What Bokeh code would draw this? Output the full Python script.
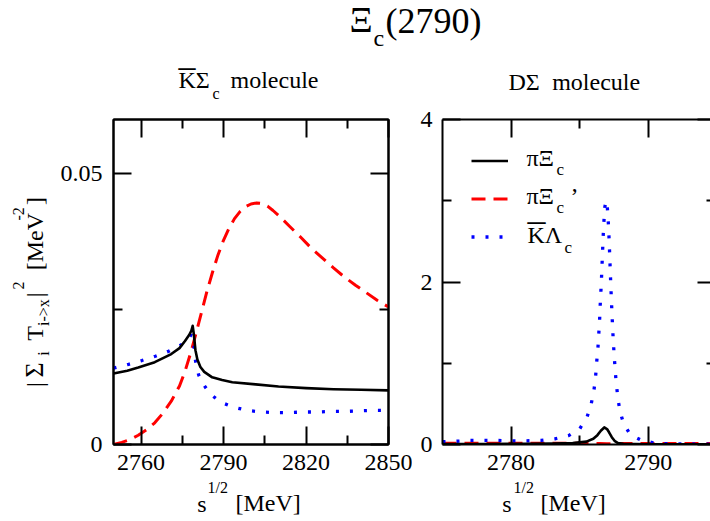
import math

from bokeh.core.properties import field, value
from bokeh.embed import file_html
from bokeh.layouts import column, row
from bokeh.models import (ColumnDataSource, FixedTicker, Label, Legend,
                          LegendItem, LinearAxis, Range1d)
from bokeh.plotting import figure
from bokeh.resources import INLINE

SERIF = "Liberation Serif"

# ---------------------------------------------------------------- data
# |sum_i T_{i->x}|^2 in MeV^-2, K̄Σc molecule
kbs_pixi_E = [2750, 2755, 2759, 2765, 2771, 2774, 2776, 2777.5, 2778.3, 2778.8,
              2779.2, 2779.8, 2780.5, 2781.6, 2783, 2785.9, 2789.5, 2793.2,
              2801.7, 2810, 2820, 2830, 2840, 2850]
kbs_pixi_T = [0.0131, 0.0136, 0.0142, 0.0152, 0.0167, 0.0178, 0.0191, 0.0202,
              0.0210, 0.0219, 0.0204, 0.0174, 0.0157, 0.0143, 0.0134, 0.0124,
              0.0119, 0.0115, 0.0111, 0.0107, 0.0104, 0.0102, 0.0101, 0.0100]

kbs_pixip_E = [2750, 2753, 2756, 2759, 2762, 2765, 2768, 2771, 2774, 2776, 2778,
               2780, 2782.2, 2784, 2786, 2788, 2790, 2792, 2794, 2796, 2798,
               2800, 2802, 2804, 2806, 2808, 2810, 2814, 2818, 2822, 2826, 2830,
               2834, 2838, 2842, 2846, 2850]
kbs_pixip_T = [0.0000, 0.0004, 0.0009, 0.0017, 0.0027, 0.0040, 0.0058, 0.0080,
               0.0108, 0.0135, 0.0168, 0.0205, 0.0248, 0.0283, 0.0318, 0.0350,
               0.0377, 0.0399, 0.0417, 0.0430, 0.0439, 0.0444, 0.0446, 0.0445,
               0.0440, 0.0432, 0.0423, 0.0403, 0.0383, 0.0362, 0.0344, 0.0326,
               0.0309, 0.0294, 0.0280, 0.0266, 0.0254]

kbs_klc_E = [2750, 2755.5, 2760.3, 2765.2, 2770, 2774.7, 2777, 2778.3, 2779.2,
             2779.5, 2780.4, 2781, 2782.2, 2785, 2789, 2793.6, 2798.6, 2803.6,
             2808.7, 2813.8, 2818.9, 2824, 2829, 2834, 2839, 2844, 2850]
kbs_klc_T = [0.0141, 0.0148, 0.0155, 0.0163, 0.0172, 0.0184, 0.0194, 0.0203,
             0.0189, 0.0164, 0.0139, 0.0128, 0.0115, 0.0094, 0.0078, 0.0069,
             0.0063, 0.0060, 0.0059, 0.0059, 0.0060, 0.0060, 0.0061, 0.0061,
             0.0062, 0.0063, 0.0063]

# DΣ molecule
ds_pixi_E = [2775, 2778, 2781, 2783, 2784.5, 2785.5, 2786.0, 2786.3, 2786.55,
             2786.8, 2787.0, 2787.15, 2787.35, 2787.55, 2787.8, 2788.2, 2790,
             2795]
ds_pixi_T = [0.005, 0.006, 0.008, 0.011, 0.018, 0.035, 0.07, 0.115, 0.17, 0.21,
             0.19, 0.15, 0.09, 0.045, 0.018, 0.008, 0.004, 0.003]

ds_pixip_E = [2775, 2780, 2785, 2786.5, 2787, 2788, 2790, 2795]
ds_pixip_T = [0.015, 0.015, 0.014, 0.012, 0.010, 0.012, 0.013, 0.013]

ds_klc_E = [2775.0, 2776.0, 2777.0, 2778.0, 2779.0, 2780.0, 2781.0, 2782.2,
            2783.2, 2784.2, 2785.0, 2785.55, 2785.85, 2786.05, 2786.17, 2786.25,
            2786.34, 2786.4, 2786.46, 2786.5, 2786.55, 2786.6, 2786.64, 2786.68,
            2786.72, 2786.77, 2786.84, 2786.93, 2787.02, 2787.1, 2787.16,
            2787.22, 2787.28, 2787.34, 2787.42, 2787.52, 2787.65, 2787.8,
            2787.95, 2788.2, 2788.7, 2789.6, 2790.6, 2791.6, 2793.0, 2795.0]
ds_klc_T = [0.035, 0.04, 0.05, 0.05, 0.05, 0.045, 0.045, 0.05, 0.07, 0.11,
            0.19, 0.34, 0.50, 0.67, 0.84, 1.02, 1.19, 1.36, 1.53, 1.70, 1.87,
            2.05, 2.22, 2.39, 2.56, 2.73, 2.92, 3.00, 2.93, 2.72, 2.50, 2.22,
            1.95, 1.70, 1.40, 1.10, 0.80, 0.56, 0.41, 0.26, 0.12, 0.045, 0.015,
            0.008, 0.006, 0.005]

left_xticks = [2760, 2790, 2820, 2850]
left_xminor = [2775, 2805, 2835]
left_yticks = [0, 0.05]
left_ytick_labels = ["0", "0.05"]
left_yminor = [0.025]

right_xticks = [2780, 2790]
right_xminor = [2785]
right_yticks = [0, 2, 4]
right_yminor = [1, 3]

# ---------------------------------------------------------------- page layout
W, H = 710, 521
TOP_H = 105                  # main title + panel titles
FRAME_TOP, FRAME_BOTTOM = 119, 444
BOTTOM_Y = 478               # page y where the axis-title strip starts
MID_H = BOTTOM_Y - TOP_H
YLAB_W = 55                  # strip holding the rotated y-axis title
LEFT_W, RIGHT_W = 412 - YLAB_W, 298
LEFT_FRAME_X, RIGHT_FRAME_X = 113, 442
UP = math.pi / 2
# the renderer places "alphabetic" text about a third of an em low
BASE_SHIFT = 0.3375


def text_strip(width, height, x0, y0, pieces):
    """A bare canvas whose data space is page pixels, holding text pieces.

    Each piece is (x, y, text, size[, angle]) with (x, y) the left end of
    its baseline on the page."""
    xs, ys, texts, sizes, angles = [], [], [], [], []
    for piece in pieces:
        x, y, text, size = piece[:4]
        angle = piece[4] if len(piece) > 4 else 0.0
        if angle:
            x -= BASE_SHIFT * size
        else:
            y -= BASE_SHIFT * size
        xs.append(x)
        ys.append(y)
        texts.append(text)
        sizes.append(f"{size}px")
        angles.append(angle)
    src = ColumnDataSource(dict(x=xs, y=ys, text=texts, size=sizes,
                                angle=angles))
    f = figure(width=width, height=height, x_range=Range1d(x0, x0 + width),
               y_range=Range1d(y0 + height, y0), x_axis_type=None,
               y_axis_type=None, output_backend="svg", toolbar_location=None,
               min_border=0)
    f.outline_line_color = None
    f.grid.visible = False
    f.text(x="x", y="y", text="text", angle="angle", source=src,
           text_font=value(SERIF), text_font_size=field("size"),
           text_color="black", text_baseline="alphabetic", text_align="left")
    return f


def tick_style(ax, major, minor, major_len=18, minor_len=9):
    ax.ticker = FixedTicker(ticks=major, minor_ticks=minor)
    ax.major_tick_in = major_len
    ax.major_tick_out = 0
    ax.minor_tick_in = minor_len
    ax.minor_tick_out = 0
    ax.major_tick_line_width = 2
    ax.minor_tick_line_width = 2
    ax.major_tick_line_color = "black"
    ax.minor_tick_line_color = "black"
    ax.axis_line_width = 2
    ax.axis_line_color = "black"
    ax.axis_label = None


def labelled(ax, standoff):
    ax.major_label_text_font = SERIF
    ax.major_label_text_font_size = "24px"
    ax.major_label_text_color = "black"
    ax.major_label_standoff = standoff


def unlabelled(ax):
    ax.major_label_text_font_size = "1px"
    ax.major_label_text_color = None
    ax.major_label_standoff = 0


def panel(width, xr, yr, mb_left, mb_right):
    p = figure(width=width, height=MID_H, x_range=Range1d(*xr),
               y_range=Range1d(*yr), output_backend="svg",
               toolbar_location=None, min_border_left=mb_left,
               min_border_right=mb_right, min_border_top=FRAME_TOP - TOP_H,
               min_border_bottom=BOTTOM_Y - FRAME_BOTTOM)
    p.grid.visible = False
    p.background_fill_color = "white"
    p.border_fill_color = "white"
    return p


def put(p, frame_x, px, py, text, size):
    """Text inside a panel frame, given by its baseline's page position."""
    py -= BASE_SHIFT * size
    p.add_layout(Label(x=px - frame_x, y=FRAME_BOTTOM - py,
                       x_units="screen", y_units="screen", text=text,
                       text_font=SERIF, text_font_size=f"{size}px",
                       text_color="black", text_align="left",
                       text_baseline="alphabetic"))


# ---------------------------------------------------------------- titles
top = text_strip(W, TOP_H, 0, 0, [
    (349, 32, "Ξ", 36), (373, 46, "c", 24), (385, 33, "(2790)", 36),
    (178, 88, "KΣ", 24), (178, 76, "–", 34), (212, 98, "c", 16),
    (230, 88, "molecule", 24),
    (508, 90, "DΣ", 24), (551.7, 90, "molecule", 24),
])

ylab = text_strip(YLAB_W, MID_H, 0, TOP_H, [
    (43, 412, "|", 24, UP), (43, 401, "Σ", 26, UP), (48, 376, "i", 16, UP),
    (43, 359, "T", 24, UP), (48, 342, "i->x", 16, UP), (43, 309, "|", 24, UP),
    (23, 300, "2", 16, UP), (43, 278, "[MeV", 24, UP), (23, 221, "-2", 16, UP),
    (43, 203, "]", 24, UP),
])

bottom = text_strip(W, H - BOTTOM_Y, 0, BOTTOM_Y, [
    (196.7, 512, "s", 24), (207, 492, "1/2", 16), (235, 511, "[MeV]", 24),
    (501.7, 512, "s", 24), (513, 492, "1/2", 16), (540, 511, "[MeV]", 24),
])

# ---------------------------------------------------------------- K̄Σc panel
pl = panel(LEFT_W, (2750, 2850), (0, 0.06), LEFT_FRAME_X - YLAB_W,
           412 - LEFT_FRAME_X - 275)
pl.outline_line_color = "black"
pl.outline_line_width = 2
pl.add_layout(LinearAxis(), "above")
pl.add_layout(LinearAxis(), "right")
for ax in pl.xaxis:
    tick_style(ax, left_xticks, left_xminor)
for ax in pl.yaxis:
    tick_style(ax, left_yticks, left_yminor)
labelled(pl.below[0], 10)
labelled(pl.left[0], 11)
pl.left[0].major_label_overrides = dict(zip(left_yticks, left_ytick_labels))
unlabelled(pl.above[0])
unlabelled(pl.right[0])

pl.line(kbs_pixip_E, kbs_pixip_T, line_color="#ff0000", line_width=3,
        line_dash="14 8")
pl.line(kbs_klc_E, kbs_klc_T, line_color="#0000ff", line_width=3.3,
        line_dash="3 11")
pl.line(kbs_pixi_E, kbs_pixi_T, line_color="black", line_width=2.6,
        line_join="round")

# ---------------------------------------------------------------- DΣ panel
pr = panel(RIGHT_W, (2775, 2794.55), (0, 4), RIGHT_FRAME_X - 412, 0)
pr.outline_line_color = None
pr.add_layout(LinearAxis(), "above")
pr.add_layout(LinearAxis(), "right")
for ax in pr.xaxis:
    tick_style(ax, right_xticks, right_xminor)
for ax in pr.yaxis:
    tick_style(ax, right_yticks, right_yminor)
labelled(pr.below[0], 10)
labelled(pr.left[0], 10)
unlabelled(pr.above[0])
unlabelled(pr.right[0])
pr.right[0].axis_line_color = None
pr.right[0].major_tick_in = 13
pr.right[0].minor_tick_in = 4

r_red = pr.line(ds_pixip_E, ds_pixip_T, line_color="#ff0000", line_width=3,
                line_dash="14 8")
r_blue = pr.line(ds_klc_E, ds_klc_T, line_color="#0000ff", line_width=3.3,
                 line_dash="3 11")
r_black = pr.line(ds_pixi_E, ds_pixi_T, line_color="black", line_width=2.6,
                  line_join="round")

legend = Legend(items=[LegendItem(label=" ", renderers=[r_black]),
                       LegendItem(label=" ", renderers=[r_red]),
                       LegendItem(label=" ", renderers=[r_blue])],
                location=(29, 197), padding=0, spacing=17, glyph_width=37,
                glyph_height=21, label_height=21, label_width=1,
                label_standoff=0, border_line_color=None,
                background_fill_alpha=0, label_text_font_size="1px",
                margin=0)
pr.add_layout(legend)

put(pr, RIGHT_FRAME_X, 526, 166, "πΞ", 24)
put(pr, RIGHT_FRAME_X, 556, 175, "c", 17)
put(pr, RIGHT_FRAME_X, 526, 204, "πΞ", 24)
put(pr, RIGHT_FRAME_X, 556, 213, "c", 17)
put(pr, RIGHT_FRAME_X, 570, 204, "’", 24)
put(pr, RIGHT_FRAME_X, 527, 243, "KΛ", 24)
put(pr, RIGHT_FRAME_X, 527, 232, "–", 36)
put(pr, RIGHT_FRAME_X, 564, 253, "c", 17)

page = column(top, row(ylab, pl, pr), bottom)
open("out.html", "w").write(file_html(page, INLINE))
